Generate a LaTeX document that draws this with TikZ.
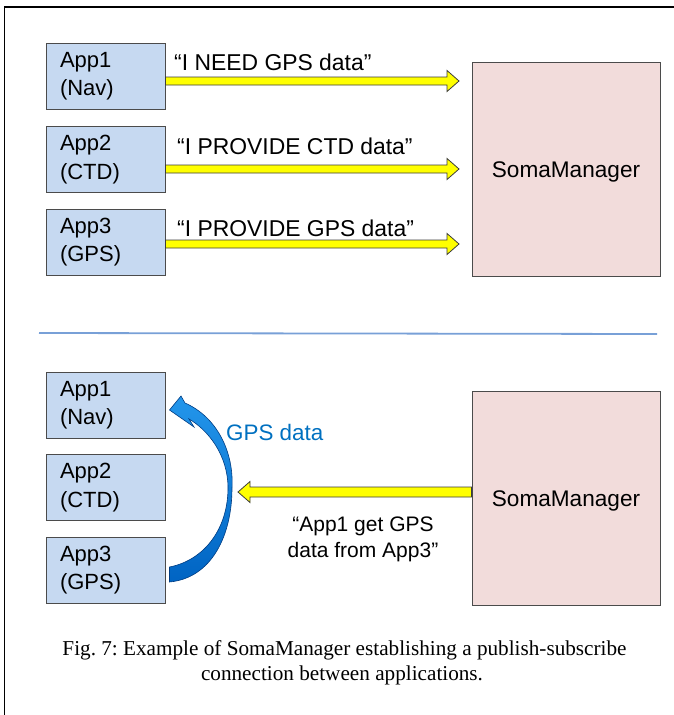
\documentclass[tikz,border=0pt]{standalone}
\usepackage{fontspec}
\setmainfont{Liberation Serif}
\newfontfamily\arial{Liberation Sans}
\usetikzlibrary{calc}

\definecolor{appblue}{RGB}{198,217,241}
\definecolor{somapink}{RGB}{242,220,219}
\definecolor{boxedge}{RGB}{75,75,75}
\definecolor{arrowyellow}{RGB}{255,255,0}
\definecolor{arrowedge}{RGB}{60,60,60}
\definecolor{dividerblue}{RGB}{120,160,215}
\definecolor{gpsblue}{RGB}{0,112,192}
\definecolor{gpslight}{RGB}{35,150,235}
\definecolor{gpsdark}{RGB}{0,100,195}
\definecolor{gpsedge}{RGB}{0,60,130}

% block arrow along a horizontal line: #1 start, #2 tip, #3 half width of the shaft
\newcommand\fatarrow[3]{%
  \filldraw[yarrow] let \p1=(#1), \p2=(#2), \p3=($(#2)!12pt!(#1)$) in
    (\x1,\y2+#3) -- (\x3,\y2+#3) -- (\x3,\y2+10.5pt) -- (\x2,\y2)
    -- (\x3,\y2-10.5pt) -- (\x3,\y2-#3) -- (\x1,\y2-#3) -- cycle;}

\begin{document}
\begin{tikzpicture}[x=1pt,y=-1pt,
  appbox/.style={draw=boxedge, line width=1pt, fill=appblue,
    minimum width=119pt, minimum height=66pt, text width=91pt,
    inner xsep=14pt, align=left,
    font=\arial\fontsize{22}{28.5}\selectfont},
  soma/.style={draw=boxedge, line width=1pt, fill=somapink,
    minimum width=188pt, minimum height=214pt,
    text height=16pt, text depth=0pt,
    font=\arial\fontsize{22.6}{27}\selectfont},
  msg/.style={inner sep=0pt, font=\arial\fontsize{22.9}{27}\selectfont},
  yarrow/.style={fill=arrowyellow, draw=arrowedge, line width=0.8pt, line join=miter},
  gpsarrow/.style={top color=gpslight, bottom color=gpsdark, draw=gpsedge, line width=0.6pt},
  caption/.style={inner sep=0pt, font=\frenchspacing\fontsize{21.2}{25}\selectfont}]

\useasboundingbox (0,0) rectangle (673,715);

% frame (left and top edges)
\draw[line width=1.8pt, line cap=rect] (4.5,715) -- (4.5,7) -- (673,7);

% ---------- upper part: applications announce themselves ----------
\node[appbox] (a1) at (105.5,76)    {App1\\(Nav)};
\node[appbox] (a2) at (105.5,159.5) {App2\\(CTD)};
\node[appbox] (a3) at (105.5,242)   {App3\\(GPS)};
\node[soma]   (m1) at (566,169)     {SomaManager};

\coordinate (t1) at (459,81);
\coordinate (t2) at (459,169);
\coordinate (t3) at (459,244);
\fatarrow{a1.east |- t1}{t1}{4pt}
\fatarrow{a2.east |- t2}{t2}{4pt}
\fatarrow{a3.east |- t3}{t3}{4pt}

\node[msg, anchor=base west] (l1) at (174,70)  {“I NEED GPS data”};
\node[msg, anchor=base west] (l2) at (177,154) {“I PROVIDE CTD data”};
\node[msg, anchor=base west] (l3) at (177,236) {“I PROVIDE GPS data”};

% divider
\draw[dividerblue, line width=1.8pt] (39,333) -- (657,334);

% ---------- lower part: the connection is set up ----------
\node[appbox] (b1) at (105.5,405)   {App1\\(Nav)};
\node[appbox] (b2) at (105.5,487.5) {App2\\(CTD)};
\node[appbox] (b3) at (105.5,570)   {App3\\(GPS)};
\node[soma]   (m2) at (566,498)     {SomaManager};

\coordinate (tb) at (238,492);
\fatarrow{m2.west |- tb}{tb}{5pt}

\node[inner sep=0pt, anchor=base, font=\arial\fontsize{21}{24}\selectfont] (l4) at (363,531) {“App1 get GPS};
\node[inner sep=0pt, anchor=base, font=\arial\fontsize{21}{24}\selectfont] (l5) at (363,557) {data from App3”};

% curved data arrow from App3 back to App1
\coordinate (tailtop) at ($(b3.east)+(4,-3)$);
\coordinate (tailbot) at ($(b3.east)+(4,12)$);
\coordinate (tip)     at ($(b1.east)+(4,5)$);
\shadedraw[gpsarrow] (tailbot) -- (tailtop)
  .. controls (205,560) and (228,528) .. (228,488)
  .. controls (228,455) and (208,430) .. (189,419)
  -- (194,427) -- (tip) -- (181,396) -- (185,403)
  .. controls (217,417) and (234,452) .. (232,488)
  .. controls (232,535) and (212,578) .. (tailbot) -- cycle;

\node[inner sep=0pt, anchor=base west, text=gpsblue, font=\arial\fontsize{22.4}{27}\selectfont] (gd) at (226,440) {GPS data};

% caption
\node[caption, anchor=base] (c1) at (344.5,655) {Fig. 7: Example of SomaManager establishing a publish-subscribe};
\node[caption, anchor=base] (c2) at (342,680) {connection between applications.};

\end{tikzpicture}
\end{document}
